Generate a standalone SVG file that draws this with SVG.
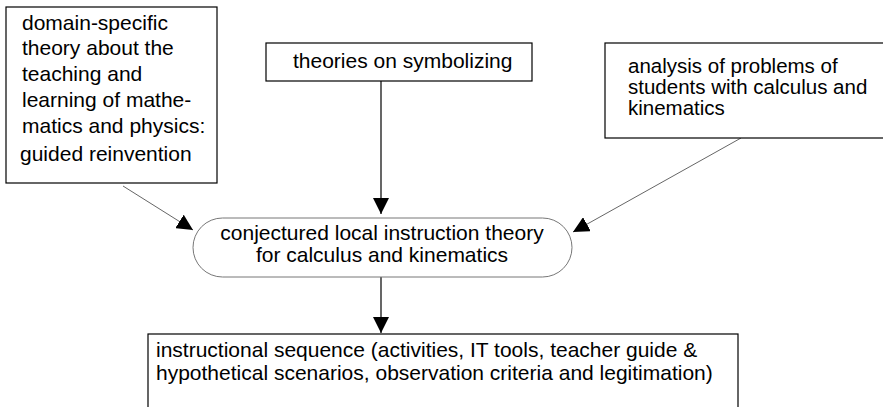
<svg xmlns="http://www.w3.org/2000/svg" width="883" height="407" viewBox="0 0 883 407">
  <defs>
    <style>
      .box { fill: #fff; stroke: #000; stroke-width: 1.2; }
      .pill { fill: #fff; stroke: #777; stroke-width: 1; }
      .lbl { font-family: "Liberation Sans", Arial, sans-serif; font-size: 21px; fill: #000; }
      .lblc { font-family: "Liberation Sans", Arial, sans-serif; font-size: 21px; fill: #000; text-anchor: middle; }
      .diag { stroke: #666; stroke-width: 1; fill: none; }
      .vert { stroke: #000; stroke-width: 1.2; fill: none; }
    </style>
    <marker id="head" viewBox="0 0 16 16" refX="16" refY="8" markerWidth="16" markerHeight="16" markerUnits="userSpaceOnUse" orient="auto">
      <path d="M0,0 L16,8 L0,16 Z" fill="#000"/>
    </marker>
  </defs>

  <rect width="883" height="407" fill="#fff"/>

  <g id="connectors">
    <line class="diag" x1="123" y1="186" x2="193" y2="230" marker-end="url(#head)"/>
    <line class="vert" x1="381" y1="81" x2="381" y2="214" marker-end="url(#head)"/>
    <line class="diag" x1="741" y1="138" x2="573" y2="232" marker-end="url(#head)"/>
    <line class="vert" x1="381" y1="277" x2="381" y2="333" marker-end="url(#head)"/>
  </g>

  <g id="domain-theory">
    <rect class="box" x="6" y="7" width="211" height="176"/>
    <text class="lbl" x="22" y="30">domain-specific</text>
    <text class="lbl" x="22" y="55">theory about the</text>
    <text class="lbl" x="22" y="81">teaching and</text>
    <text class="lbl" x="22" y="107">learning of mathe-</text>
    <text class="lbl" x="22" y="133">matics and physics:</text>
    <text class="lbl" x="20" y="161">guided reinvention</text>
  </g>

  <g id="symbolizing">
    <rect class="box" x="266" y="43" width="266" height="38"/>
    <text class="lbl" x="293" y="68">theories on symbolizing</text>
  </g>

  <g id="problem-analysis">
    <rect class="box" x="605" y="43" width="300" height="95"/>
    <text class="lbl" x="628" y="73" style="font-size:20.5px">analysis of problems of</text>
    <text class="lbl" x="628" y="94" style="font-size:20.5px">students with calculus and</text>
    <text class="lbl" x="628" y="115" style="font-size:20.5px">kinematics</text>
  </g>

  <g id="local-theory">
    <rect class="pill" x="193" y="218" width="379" height="59" rx="29.5" ry="29.5"/>
    <text class="lblc" x="382" y="240">conjectured local instruction theory</text>
    <text class="lblc" x="382" y="262">for calculus and kinematics</text>
  </g>

  <g id="instructional-sequence">
    <rect class="box" x="148" y="334" width="590" height="90"/>
    <text class="lbl" x="156" y="357">instructional sequence (activities, IT tools, teacher guide &amp;</text>
    <text class="lbl" x="156" y="380">hypothetical scenarios, observation criteria and legitimation)</text>
  </g>
</svg>
